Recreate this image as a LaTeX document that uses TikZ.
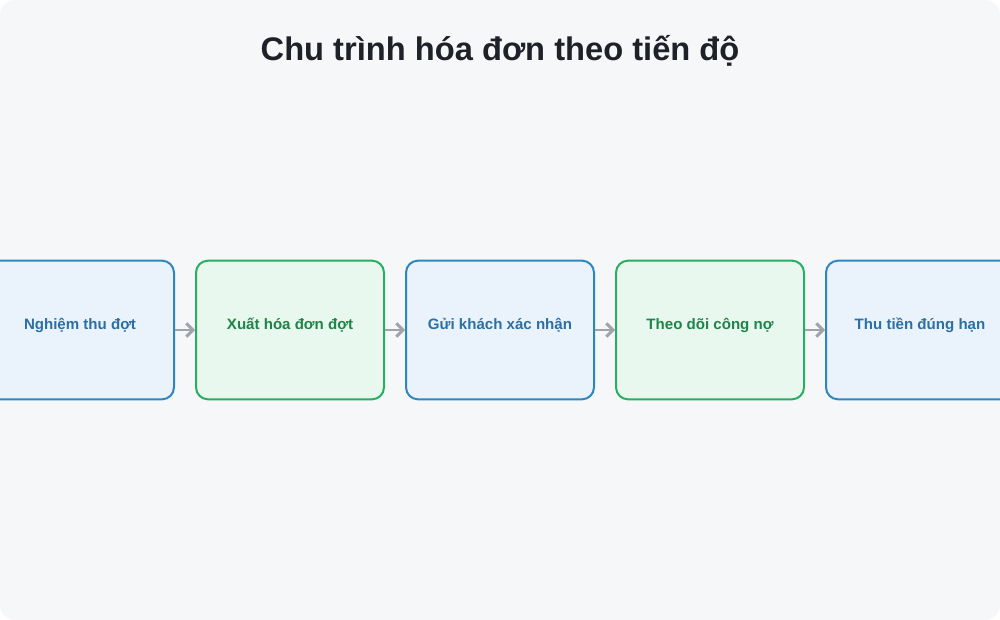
\documentclass[tikz,border=0pt]{standalone}
\usepackage{fontspec}
\setmainfont{Liberation Sans}
\usetikzlibrary{positioning,arrows.meta}
\definecolor{pagebg}{HTML}{F6F7F9}
\definecolor{blueline}{HTML}{2E86C1}
\definecolor{bluefill}{HTML}{EAF2FB}
\definecolor{bluetext}{HTML}{2A6FA5}
\definecolor{greenline}{HTML}{27AE60}
\definecolor{greenfill}{HTML}{E8F8EE}
\definecolor{greentext}{HTML}{1E8449}
\definecolor{arrowgray}{HTML}{A0A4AA}
\definecolor{titletext}{HTML}{1F2128}
\tikzset{
	stagebox/.style={rectangle, rounded corners=9pt, line width=1.5pt,
		minimum width=141pt, minimum height=104pt,
		text height=8pt, text depth=8pt,
		font=\fontsize{11.3}{13}\selectfont\bfseries},
	bluestage/.style={stagebox, draw=blueline, fill=bluefill, text=bluetext},
	greenstage/.style={stagebox, draw=greenline, fill=greenfill, text=greentext},
	flow/.style={draw=arrowgray, line width=2.2pt,
		-{Straight Barb[length=5pt,width=10pt]}}
}
\begin{document}
\begin{tikzpicture}[x=0.75pt,y=-0.75pt, node distance=15pt]
	% page backdrop
	\fill[pagebg, rounded corners=11pt] (0,0) rectangle (1000,620);
	\useasboundingbox (0,0) rectangle (1000,620);

	% title
	\node[font=\fontsize{24.5}{28}\selectfont\bfseries, text=titletext]
		(title) at (500,51) {Chu trình hóa đơn theo tiến độ};

	% stages
	\node[bluestage] (accept) at (80,330) {Nghiệm thu đợt};
	\node[greenstage, right=of accept] (invoice) {Xuất hóa đơn đợt};
	\node[bluestage, right=of invoice] (confirm) {Gửi khách xác nhận};
	\node[greenstage, right=of confirm] (track) {Theo dõi công nợ};
	\node[bluestage, right=of track] (collect) {Thu tiền đúng hạn};

	% connectors
	\draw[flow] (accept) -- (invoice);
	\draw[flow] (invoice) -- (confirm);
	\draw[flow] (confirm) -- (track);
	\draw[flow] (track) -- (collect);
\end{tikzpicture}
\end{document}
